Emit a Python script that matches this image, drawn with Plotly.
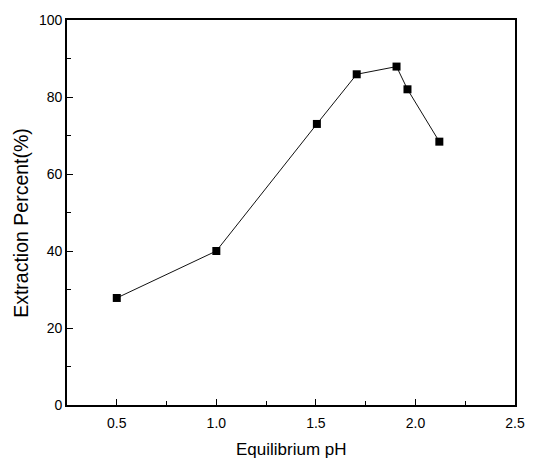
import plotly.graph_objects as go

# Extraction percent vs. equilibrium pH
ph_values = [0.5, 1.0, 1.505, 1.705, 1.905, 1.96, 2.12]
extraction_pct = [27.8, 40.0, 73.0, 85.9, 87.9, 82.0, 68.4]

x_ticks = [0.5, 1.0, 1.5, 2.0, 2.5]
x_tick_labels = ["0.5", "1.0", "1.5", "2.0", "2.5"]
y_ticks = [0, 20, 40, 60, 80, 100]

x_title = "Equilibrium pH"
y_title = "Extraction Percent(%)"

font_family = "Liberation Sans, Arial, sans-serif"

fig = go.Figure()
fig.add_trace(go.Scatter(
    x=ph_values,
    y=extraction_pct,
    mode="lines+markers",
    line=dict(color="#111111", width=1),
    marker=dict(symbol="square", size=8, color="#000000"),
    showlegend=False,
))

axis_common = dict(
    showline=True,
    linecolor="#000000",
    linewidth=1.6,
    mirror=True,
    showgrid=False,
    zeroline=False,
    ticks="inside",
    ticklen=6,
    tickwidth=1.3,
    tickcolor="#000000",
    tickfont=dict(family=font_family, size=14, color="#000000"),
)

fig.update_xaxes(
    **axis_common,
    range=[0.25, 2.5],
    tickvals=x_ticks,
    ticktext=x_tick_labels,
    ticklabelstandoff=4,
    minor=dict(ticks="inside", ticklen=4, tickcolor="#000000", dtick=0.25, tick0=0.25),
)
fig.update_yaxes(
    **axis_common,
    range=[0, 100],
    tickvals=y_ticks,
    minor=dict(ticks="inside", ticklen=4, tickcolor="#000000", dtick=10, tick0=0),
)

# Axis titles placed as annotations
fig.add_annotation(
    text=x_title, xref="paper", yref="paper", x=0.5, y=-0.1154,
    xanchor="center", yanchor="middle", showarrow=False,
    font=dict(family=font_family, size=17, color="#000000"),
)
fig.add_annotation(
    text=y_title, xref="paper", yref="paper", x=-0.1042, y=0.474,
    xanchor="center", yanchor="middle", textangle=-90, showarrow=False,
    font=dict(family=font_family, size=19.5, color="#000000"),
)

fig.update_layout(
    width=537,
    height=462,
    margin=dict(l=67, r=19, t=15, b=57),
    plot_bgcolor="#ffffff",
    paper_bgcolor="#ffffff",
)

fig.write_html("out.html")
